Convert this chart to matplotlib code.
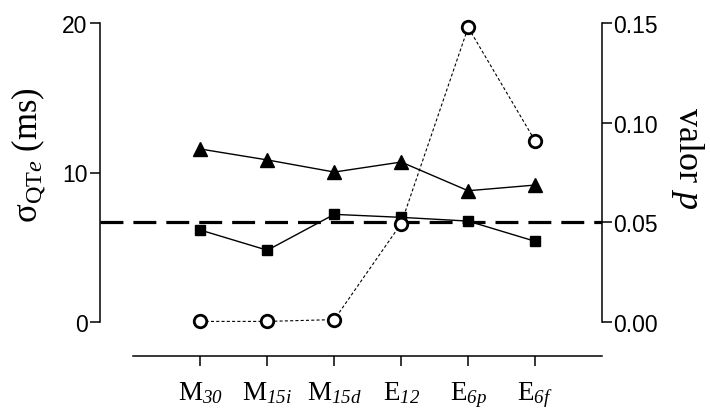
import matplotlib
matplotlib.use("Agg")
import matplotlib.pyplot as plt
import numpy as np

categories = [r"M$_{\mathsf{30}}$", r"M$_{\mathsf{15i}}$", r"M$_{\mathsf{15d}}$",
              r"E$_{\mathsf{12}}$", r"E$_{\mathsf{6p}}$", r"E$_{\mathsf{6f}}$"]
sigma_triangle = [11.57, 10.84, 10.03, 10.70, 8.78, 9.16]
sigma_square = [6.15, 4.80, 7.20, 7.00, 6.75, 5.40]
p_values = [0.0003, 0.0003, 0.0012, 0.0494, 0.1478, 0.0909]
p_threshold = 0.05
left_ticks = [0, 10, 20]
right_ticks = [0.00, 0.05, 0.10, 0.15]

plt.rcParams['mathtext.fontset'] = 'custom'
plt.rcParams['mathtext.rm'] = 'Liberation Serif'
plt.rcParams['mathtext.it'] = 'Liberation Serif:italic'
plt.rcParams['mathtext.sf'] = 'Liberation Serif:italic'
plt.rcParams['mathtext.bf'] = 'Liberation Serif:bold'
plt.rcParams['lines.scale_dashes'] = False

fig = plt.figure(figsize=(7.1, 4.1), dpi=100)
ax = fig.add_axes([100/710, 87/410, 502/710, 299/410])
ax2 = ax.twinx()

x = np.arange(len(categories))

ax.plot(x, sigma_triangle, color='black', lw=1.0, marker='^', ms=9.5,
        mfc='black', mec='black', zorder=3, clip_on=False)
ax.plot(x, sigma_square, color='black', lw=1.0, marker='s', ms=7.5,
        mfc='black', mec='black', zorder=3, clip_on=False)
ax2.plot(x, p_values, color='black', lw=0.8, ls=(0, (2.2, 1.6)), marker='o', ms=9,
         mfc='white', mec='black', mew=2.0, zorder=3, clip_on=False)
ax2.axhline(p_threshold, color='black', lw=2.3, ls=(0, (16.5, 7.2)), zorder=2)

ax.set_xlim(-1.5, 6)
ax.set_ylim(0, 20)
ax2.set_ylim(0, 0.15)

for a in (ax, ax2):
    a.spines['top'].set_visible(False)
    a.patch.set_visible(False)
ax.spines['right'].set_visible(False)
ax2.spines['left'].set_visible(False)
ax2.spines['bottom'].set_visible(False)
ax.spines['bottom'].set_position(('outward', 24.5))
ax.spines['bottom'].set_bounds(-1, 6)
for s in ['left', 'bottom']:
    ax.spines[s].set_linewidth(1.1)
ax2.spines['right'].set_linewidth(1.1)

ax.set_xticks(x)
ax.set_xticklabels(categories, fontsize=19.5, family='Liberation Serif')
ax.set_yticks(left_ticks)
ax.set_yticklabels([str(t) for t in left_ticks], fontsize=16.5, family='Liberation Sans')
ax2.set_yticks(right_ticks)
ax2.set_yticklabels([f"{t:.2f}" for t in right_ticks], fontsize=16.5, family='Liberation Sans')

ax.tick_params(axis='both', direction='out', length=7, width=1.1, pad=2)
ax.tick_params(axis='x', pad=10)
ax2.tick_params(axis='y', direction='out', length=7, width=1.1, pad=1)

ax.set_ylabel(r"σ$_{\mathrm{QT}\mathit{e}}$ (ms)", fontsize=25, family='Liberation Serif',
              va='center', ha='center')
ax.yaxis.set_label_coords(-0.1434, 0.562)
ax2.set_ylabel(r"valor $p$", fontsize=26, family='Liberation Serif', rotation=-90,
               va='center', ha='center')
ax2.yaxis.set_label_coords(1.171, 0.552)

fig.savefig("out.png", dpi=100)
